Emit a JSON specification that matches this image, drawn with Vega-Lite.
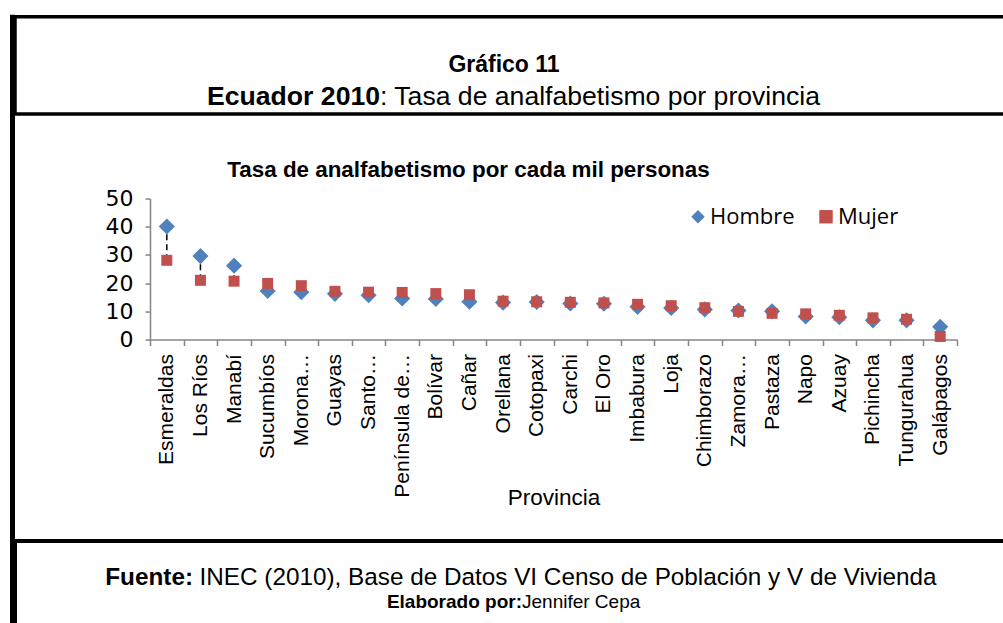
{
  "$schema": "https://vega.github.io/schema/vega-lite/v6.json",
  "background": "white",
  "padding": {"left": 10, "top": 14.75, "right": -12, "bottom": -19.5},
  "config": {"view": {"stroke": null}, "font": "Liberation Sans"},
  "datasets": {
    "tasas": [
      {"provincia": "Esmeraldas", "sexo": "Hombre", "tasa": 40.1},
      {"provincia": "Los Ríos", "sexo": "Hombre", "tasa": 29.6},
      {"provincia": "Manabí", "sexo": "Hombre", "tasa": 26.2},
      {"provincia": "Sucumbíos", "sexo": "Hombre", "tasa": 17.2},
      {"provincia": "Morona…", "sexo": "Hombre", "tasa": 16.8},
      {"provincia": "Guayas", "sexo": "Hombre", "tasa": 16.2},
      {"provincia": "Santo…", "sexo": "Hombre", "tasa": 15.7},
      {"provincia": "Península de…", "sexo": "Hombre", "tasa": 14.6},
      {"provincia": "Bolívar", "sexo": "Hombre", "tasa": 14.4},
      {"provincia": "Cañar", "sexo": "Hombre", "tasa": 13.4},
      {"provincia": "Orellana", "sexo": "Hombre", "tasa": 13.1},
      {"provincia": "Cotopaxi", "sexo": "Hombre", "tasa": 13.3},
      {"provincia": "Carchi", "sexo": "Hombre", "tasa": 12.8},
      {"provincia": "El Oro", "sexo": "Hombre", "tasa": 12.7},
      {"provincia": "Imbabura", "sexo": "Hombre", "tasa": 11.6},
      {"provincia": "Loja", "sexo": "Hombre", "tasa": 11.2},
      {"provincia": "Chimborazo", "sexo": "Hombre", "tasa": 10.7},
      {"provincia": "Zamora…", "sexo": "Hombre", "tasa": 10.3},
      {"provincia": "Pastaza", "sexo": "Hombre", "tasa": 10.0},
      {"provincia": "Napo", "sexo": "Hombre", "tasa": 8.2},
      {"provincia": "Azuay", "sexo": "Hombre", "tasa": 7.9},
      {"provincia": "Pichincha", "sexo": "Hombre", "tasa": 6.8},
      {"provincia": "Tungurahua", "sexo": "Hombre", "tasa": 6.8},
      {"provincia": "Galápagos", "sexo": "Hombre", "tasa": 4.5},
      {"provincia": "Esmeraldas", "sexo": "Mujer", "tasa": 28.1},
      {"provincia": "Los Ríos", "sexo": "Mujer", "tasa": 21.0},
      {"provincia": "Manabí", "sexo": "Mujer", "tasa": 20.7},
      {"provincia": "Sucumbíos", "sexo": "Mujer", "tasa": 19.9},
      {"provincia": "Morona…", "sexo": "Mujer", "tasa": 19.1},
      {"provincia": "Guayas", "sexo": "Mujer", "tasa": 17.1},
      {"provincia": "Santo…", "sexo": "Mujer", "tasa": 16.8},
      {"provincia": "Península de…", "sexo": "Mujer", "tasa": 16.7},
      {"provincia": "Bolívar", "sexo": "Mujer", "tasa": 16.3},
      {"provincia": "Cañar", "sexo": "Mujer", "tasa": 15.9},
      {"provincia": "Orellana", "sexo": "Mujer", "tasa": 13.6},
      {"provincia": "Cotopaxi", "sexo": "Mujer", "tasa": 13.4},
      {"provincia": "Carchi", "sexo": "Mujer", "tasa": 13.2},
      {"provincia": "El Oro", "sexo": "Mujer", "tasa": 13.0},
      {"provincia": "Imbabura", "sexo": "Mujer", "tasa": 12.5},
      {"provincia": "Loja", "sexo": "Mujer", "tasa": 12.0},
      {"provincia": "Chimborazo", "sexo": "Mujer", "tasa": 11.3},
      {"provincia": "Zamora…", "sexo": "Mujer", "tasa": 10.0},
      {"provincia": "Pastaza", "sexo": "Mujer", "tasa": 9.3},
      {"provincia": "Napo", "sexo": "Mujer", "tasa": 9.1},
      {"provincia": "Azuay", "sexo": "Mujer", "tasa": 8.6},
      {"provincia": "Pichincha", "sexo": "Mujer", "tasa": 7.7},
      {"provincia": "Tungurahua", "sexo": "Mujer", "tasa": 7.2},
      {"provincia": "Galápagos", "sexo": "Mujer", "tasa": 1.1}
    ],
    "textos": [
      {"bloque": "enc", "id": "g11", "linea": 1, "texto": "Gráfico 11"},
      {"bloque": "enc", "id": "ec", "linea": 2, "texto": "Ecuador 2010"},
      {"bloque": "enc", "id": "tasa", "linea": 2, "texto": ": Tasa de analfabetismo por provincia"},
      {"bloque": "pie", "id": "fuente", "linea": 1, "texto": "Fuente:"},
      {"bloque": "pie", "id": "inec", "linea": 1, "texto": "INEC (2010), Base de Datos VI Censo de Población y V de Vivienda"},
      {"bloque": "pie", "id": "elab", "linea": 2, "texto": "Elaborado por:"},
      {"bloque": "pie", "id": "cepa", "linea": 2, "texto": "Jennifer Cepa"}
    ]
  },
  "spacing": -4.75,
  "hconcat": [
    {
      "width": 1,
      "height": 624,
      "view": {"stroke": "#000000", "strokeWidth": 4},
      "data": {"values": []},
      "mark": "point"
    },
    {
      "spacing": 42.8,
      "vconcat": [
        {
          "width": 1000,
          "height": 97.2,
          "view": {"stroke": "#000000", "strokeWidth": 3.5},
          "data": {"name": "textos"},
          "transform": [{"filter": "datum.bloque === 'enc'"}],
          "encoding": {
            "y": {"field": "linea", "type": "ordinal", "scale": {"domain": [1, 2], "range": [48.5, 80.5], "padding": 0}, "axis": null},
            "text": {"field": "texto", "type": "nominal"}
          },
          "layer": [
            {
              "transform": [{"filter": "datum.id === 'g11'"}],
              "mark": {"type": "text", "font": "Liberation Sans", "fontSize": 23, "fontWeight": "bold", "align": "center", "baseline": "middle", "dx": -11, "color": "#000000"}
            },
            {
              "transform": [{"filter": "datum.id === 'ec'"}],
              "mark": {"type": "text", "font": "Liberation Sans", "fontSize": 26.6, "fontWeight": "bold", "align": "right", "baseline": "middle", "dx": -135, "color": "#000000"}
            },
            {
              "transform": [{"filter": "datum.id === 'tasa'"}],
              "mark": {"type": "text", "font": "Liberation Sans", "fontSize": 26.6, "fontWeight": "normal", "align": "left", "baseline": "middle", "dx": -135, "color": "#000000"}
            }
          ]
        },
        {
          "spacing": 29.5,
          "vconcat": [
            {
              "spacing": 0,
              "hconcat": [
                {
                  "width": 89.5,
                  "height": 1,
                  "data": {"values": []},
                  "mark": "point"
                },
                {
                  "width": 807,
                  "height": 141,
                  "title": {
                    "text": "Tasa de analfabetismo por cada mil personas",
                    "font": "Liberation Sans",
                    "fontSize": 22.4,
                    "fontWeight": "bold",
                    "color": "#000000",
                    "anchor": "middle",
                    "frame": "group",
                    "dx": -85,
                    "offset": 6.3
                  },
                  "data": {"name": "tasas"},
                  "encoding": {
                    "x": {
                      "field": "provincia",
                      "type": "nominal",
                      "sort": null,
                      "scale": {
                        "type": "band",
                        "paddingInner": 0,
                        "paddingOuter": 0,
                        "domain": ["Esmeraldas", "Los Ríos", "Manabí", "Sucumbíos", "Morona…", "Guayas", "Santo…", "Península de…", "Bolívar", "Cañar", "Orellana", "Cotopaxi", "Carchi", "El Oro", "Imbabura", "Loja", "Chimborazo", "Zamora…", "Pastaza", "Napo", "Azuay", "Pichincha", "Tungurahua", "Galápagos"]
                      },
                      "axis": {
                        "title": "Provincia",
                        "labelAngle": 270,
                        "labelFont": "Liberation Sans",
                        "labelFontSize": 21,
                        "labelColor": "#000000",
                        "labelPadding": 8,
                        "labelLimit": 0,
                        "titleFont": "Liberation Sans",
                        "titleFontSize": 22.5,
                        "titleFontWeight": "normal",
                        "titleColor": "#000000",
                        "titlePadding": -11,
                        "domainColor": "#868686",
                        "domainWidth": 1.5,
                        "tickColor": "#868686",
                        "tickWidth": 1.5,
                        "tickSize": 6,
                        "tickBand": "extent",
                        "grid": false
                      }
                    },
                    "y": {
                      "field": "tasa",
                      "type": "quantitative",
                      "scale": {"domain": [0, 50], "nice": false},
                      "axis": {
                        "title": null,
                        "values": [0, 10, 20, 30, 40, 50],
                        "labelFont": "DejaVu Sans",
                        "labelFontSize": 22,
                        "labelColor": "#000000",
                        "labelPadding": 12,
                        "domainColor": "#868686",
                        "domainWidth": 1.5,
                        "tickColor": "#868686",
                        "tickWidth": 1.5,
                        "tickSize": 5,
                        "grid": false
                      }
                    }
                  },
                  "layer": [
                    {
                      "mark": {"type": "rule", "color": "#000000", "strokeWidth": 1.5, "strokeDash": [6, 4]},
                      "encoding": {
                        "y": {
                          "aggregate": "min",
                          "field": "tasa",
                          "type": "quantitative",
                          "title": null,
                          "scale": {"domain": [0, 50], "nice": false},
                          "axis": {
                            "title": null,
                            "values": [0, 10, 20, 30, 40, 50],
                            "labelFont": "DejaVu Sans",
                            "labelFontSize": 22,
                            "labelColor": "#000000",
                            "labelPadding": 12,
                            "domainColor": "#868686",
                            "domainWidth": 1.5,
                            "tickColor": "#868686",
                            "tickWidth": 1.5,
                            "tickSize": 5,
                            "grid": false
                          }
                        },
                        "y2": {"aggregate": "max", "field": "tasa"}
                      }
                    },
                    {
                      "transform": [{"filter": "datum.sexo === 'Hombre'"}],
                      "mark": {"type": "point", "filled": true, "opacity": 1, "size": 260, "strokeWidth": 0},
                      "encoding": {
                        "color": {
                          "field": "sexo", "type": "nominal",
                          "scale": {"domain": ["Hombre", "Mujer"], "range": ["#4F81BD", "#C0504D"]},
                          "legend": {"title": null, "orient": "none", "legendX": 675, "legendY": 189, "direction": "horizontal", "labelFont": "Open Sans", "labelFontSize": 22, "labelColor": "#000000", "symbolSize": 180, "columnPadding": 20, "labelOffset": 1}
                        },
                        "shape": {
                          "field": "sexo", "type": "nominal",
                          "scale": {"domain": ["Hombre", "Mujer"], "range": ["diamond", "square"]},
                          "legend": {"title": null, "orient": "none", "legendX": 675, "legendY": 189, "direction": "horizontal", "labelFont": "Open Sans", "labelFontSize": 22, "labelColor": "#000000", "symbolSize": 180, "columnPadding": 20, "labelOffset": 1}
                        }
                      }
                    },
                    {
                      "transform": [{"filter": "datum.sexo === 'Mujer'"}],
                      "mark": {"type": "point", "filled": true, "opacity": 1, "size": 121, "strokeWidth": 0},
                      "encoding": {
                        "color": {
                          "field": "sexo", "type": "nominal",
                          "scale": {"domain": ["Hombre", "Mujer"], "range": ["#4F81BD", "#C0504D"]},
                          "legend": {"title": null, "orient": "none", "legendX": 675, "legendY": 189, "direction": "horizontal", "labelFont": "Open Sans", "labelFontSize": 22, "labelColor": "#000000", "symbolSize": 180, "columnPadding": 20, "labelOffset": 1}
                        },
                        "shape": {
                          "field": "sexo", "type": "nominal",
                          "scale": {"domain": ["Hombre", "Mujer"], "range": ["diamond", "square"]},
                          "legend": {"title": null, "orient": "none", "legendX": 675, "legendY": 189, "direction": "horizontal", "labelFont": "Open Sans", "labelFontSize": 22, "labelColor": "#000000", "symbolSize": 180, "columnPadding": 20, "labelOffset": 1}
                        }
                      }
                    }
                  ]
                }
              ]
            },
            {
              "width": 1000,
              "height": 100,
              "view": {"stroke": "#000000", "strokeWidth": 4},
              "data": {"name": "textos"},
              "transform": [{"filter": "datum.bloque === 'pie'"}],
              "encoding": {
                "y": {"field": "linea", "type": "ordinal", "scale": {"domain": [1, 2], "range": [37, 60.5], "padding": 0}, "axis": null},
                "text": {"field": "texto", "type": "nominal"}
              },
              "layer": [
                {
                  "transform": [{"filter": "datum.id === 'fuente'"}],
                  "mark": {"type": "text", "font": "Liberation Sans", "fontSize": 24.3, "fontWeight": "bold", "align": "right", "baseline": "middle", "dx": -322, "color": "#000000"}
                },
                {
                  "transform": [{"filter": "datum.id === 'inec'"}],
                  "mark": {"type": "text", "font": "Liberation Sans", "fontSize": 24.3, "fontWeight": "normal", "align": "left", "baseline": "middle", "dx": -315.5, "color": "#000000"}
                },
                {
                  "transform": [{"filter": "datum.id === 'elab'"}],
                  "mark": {"type": "text", "font": "Liberation Sans", "fontSize": 19, "fontWeight": "bold", "align": "right", "baseline": "middle", "dx": 7, "color": "#000000"}
                },
                {
                  "transform": [{"filter": "datum.id === 'cepa'"}],
                  "mark": {"type": "text", "font": "Liberation Sans", "fontSize": 19, "fontWeight": "normal", "align": "left", "baseline": "middle", "dx": 7, "color": "#000000"}
                }
              ]
            }
          ]
        }
      ]
    }
  ]
}
